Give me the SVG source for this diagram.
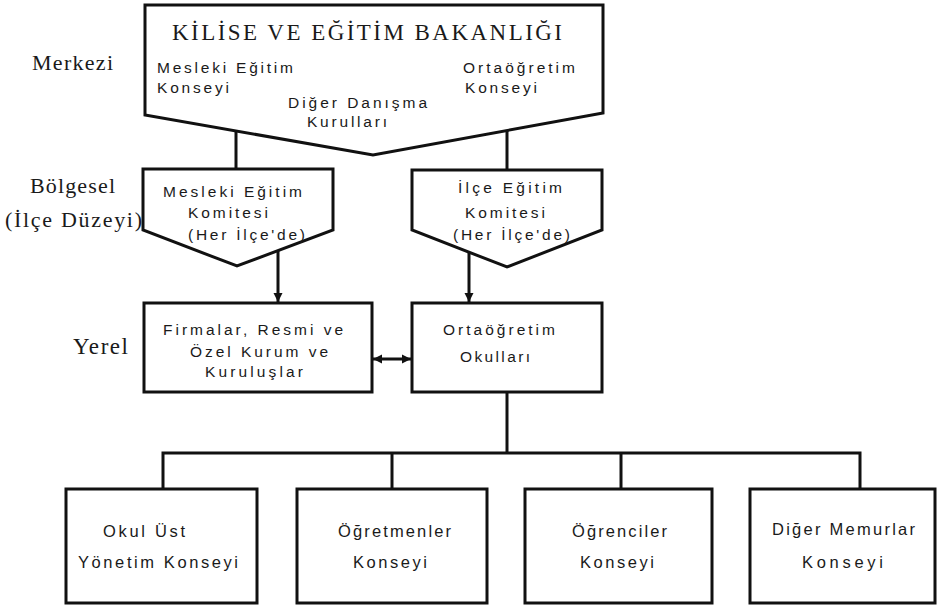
<svg xmlns="http://www.w3.org/2000/svg" width="937" height="607" viewBox="0 0 937 607">
<style>
.shape{fill:#fff;stroke:#111;stroke-width:3;stroke-linejoin:miter}
.conn{fill:none;stroke:#111;stroke-width:3}
.serif{font-family:"Liberation Serif","Times New Roman",serif;fill:#1a1a1a}
.sans{font-family:"Liberation Sans",Arial,sans-serif;fill:#1a1a1a;font-size:15.5px}
.big{font-size:16.5px}
</style>
<defs>
<marker id="arr" viewBox="0 0 10 10" refX="10" refY="5" markerWidth="9" markerHeight="11" markerUnits="userSpaceOnUse" orient="auto-start-reverse">
<path d="M0,0 L10,5 L0,10 Z" fill="#111"/>
</marker>
</defs>
<rect width="937" height="607" fill="#fff"/>

<g id="labels">
<text class="serif" x="32" y="70" font-size="22" textLength="81">Merkezi</text>
<text class="serif" x="30" y="193" font-size="22" textLength="85">Bölgesel</text>
<text class="serif" x="5" y="227" font-size="22" textLength="137">(İlçe Düzeyi)</text>
<text class="serif" x="73" y="354" font-size="23" textLength="55">Yerel</text>
</g>

<g id="connectors">
<line class="conn" x1="236" y1="131" x2="236" y2="169"/>
<line class="conn" x1="507" y1="130" x2="507" y2="170"/>
<line class="conn" x1="278" y1="251" x2="278" y2="302" marker-end="url(#arr)"/>
<line class="conn" x1="469" y1="252" x2="469" y2="302" marker-end="url(#arr)"/>
<line class="conn" x1="373" y1="359" x2="411" y2="359" marker-start="url(#arr)" marker-end="url(#arr)"/>
<line class="conn" x1="507" y1="392" x2="507" y2="453"/>
<polyline class="conn" points="163,489 163,453 860,453 860,489"/>
<line class="conn" x1="392" y1="453" x2="392" y2="489"/>
<line class="conn" x1="621" y1="453" x2="621" y2="489"/>
</g>

<g id="bakanlik">
<path class="shape" d="M145,5 L603,5 L603,113 L373,155 L145,115 Z"/>
<text class="serif" x="172" y="40" font-size="23" textLength="390">KİLİSE VE EĞİTİM BAKANLIĞI</text>
<text class="sans" x="157" y="73" textLength="136">Mesleki Eğitim</text>
<text class="sans" x="157" y="93" textLength="72">Konseyi</text>
<text class="sans" x="288" y="108" textLength="139">Diğer Danışma</text>
<text class="sans" x="307" y="127" textLength="80">Kurulları</text>
<text class="sans" x="463" y="73" textLength="112">Ortaöğretim</text>
<text class="sans" x="465" y="93" textLength="72">Konseyi</text>
</g>

<g id="mesleki-komite">
<path class="shape" d="M143,169 L333,169 L333,230 L237,266 L143,230 Z"/>
<text class="sans" x="163" y="197" textLength="139">Mesleki Eğitim</text>
<text class="sans" x="188" y="218" textLength="80">Komitesi</text>
<text class="sans" x="188" y="240" textLength="117">(Her İlçe'de)</text>
</g>

<g id="ilce-komite">
<path class="shape" d="M412,170 L602,170 L602,230 L507,267 L412,230 Z"/>
<text class="sans" x="458" y="193" textLength="104">İlçe Eğitim</text>
<text class="sans" x="465" y="218" textLength="80">Komitesi</text>
<text class="sans" x="453" y="240" textLength="117">(Her İlçe'de)</text>
</g>

<g id="firmalar">
<rect class="shape" x="144" y="303" width="228" height="89"/>
<text class="sans" x="163" y="335" textLength="180">Firmalar, Resmi ve</text>
<text class="sans" x="190" y="357" textLength="138">Özel Kurum ve</text>
<text class="sans" x="205" y="377" textLength="98">Kuruluşlar</text>
</g>

<g id="ortaogretim-okullari">
<rect class="shape" x="412" y="303" width="190" height="89"/>
<text class="sans" x="443" y="335" textLength="112">Ortaöğretim</text>
<text class="sans" x="460" y="362" textLength="70">Okulları</text>
</g>

<g id="okul-ust">
<rect class="shape" x="66" y="489" width="191" height="114"/>
<text class="sans big" x="103" y="537" textLength="82">Okul Üst</text>
<text class="sans big" x="78" y="568" textLength="160">Yönetim Konseyi</text>
</g>

<g id="ogretmenler">
<rect class="shape" x="297" y="489" width="190" height="114"/>
<text class="sans big" x="338" y="537" textLength="113">Öğretmenler</text>
<text class="sans big" x="353" y="568" textLength="74">Konseyi</text>
</g>

<g id="ogrenciler">
<rect class="shape" x="525" y="489" width="187" height="114"/>
<text class="sans big" x="572" y="537" textLength="95">Öğrenciler</text>
<text class="sans big" x="580" y="568" textLength="74">Konseyi</text>
</g>

<g id="diger-memurlar">
<rect class="shape" x="750" y="489" width="185" height="114"/>
<text class="sans big" x="772" y="535" textLength="143">Diğer Memurlar</text>
<text class="sans big" x="802" y="568" textLength="81">Konseyi</text>
</g>
</svg>
